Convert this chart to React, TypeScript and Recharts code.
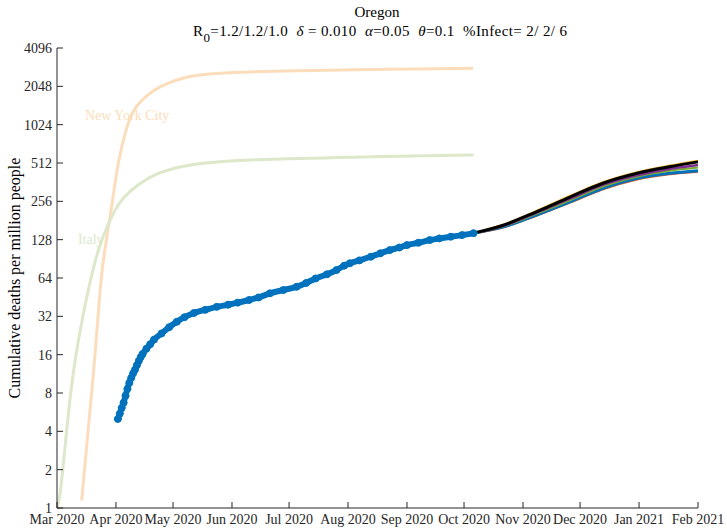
import React from 'react';
import { LineChart, Line, XAxis, YAxis, ReferenceDot } from 'recharts';

// x values are days since 1 Mar 2020
const monthTicks = [0, 31, 61, 92, 122, 153, 184, 214, 245, 275, 306, 337];
const monthLabels = ['Mar 2020', 'Apr 2020', 'May 2020', 'Jun 2020', 'Jul 2020', 'Aug 2020', 'Sep 2020', 'Oct 2020', 'Nov 2020', 'Dec 2020', 'Jan 2021', 'Feb 2021'];
const yTicks = [1, 2, 4, 8, 16, 32, 64, 128, 256, 512, 1024, 2048, 4096];

const nycDays = [13, 14.7, 16.3, 18.9, 21.6, 23.5, 27, 29.3, 32.2, 36.6, 40.1, 44.5, 50.6, 57.7, 68.2, 75.2, 89.2, 124, 176.7, 218.7];
const nycValues = [1.15, 2.2, 4, 10, 32, 75, 160, 263, 541, 988, 1340, 1600, 1910, 2160, 2440, 2520, 2630, 2720, 2790, 2840];

const italyDays = [0, 1.6, 4.2, 7.7, 12.1, 17.4, 22.6, 26.3, 30, 34.7, 43.6, 52, 61, 75, 101, 154, 219];
const italyValues = [1.0, 1.2, 3, 10, 25, 62, 120, 160, 215, 277, 357, 420, 467, 512, 545, 570, 592];

const oregonDays = [32, 33, 34, 35, 36, 37, 38, 39, 40, 41, 42, 43, 44, 45, 47, 49, 51, 55, 59, 63, 67, 72, 78, 84, 90, 95, 101, 106, 112, 119, 126, 131, 136, 142, 147, 151, 154, 159, 165, 170, 175, 180, 184, 190, 196, 201, 207, 213, 219];
const oregonValues = [5.0, 5.5, 6.1, 6.7, 7.6, 8.6, 9.6, 10.5, 11.4, 12.2, 13.2, 14.3, 15.3, 16.2, 17.8, 19.3, 21, 23.5, 26.3, 29, 31.5, 34, 36, 38, 39.5, 41, 43, 45, 48.5, 51.5, 54.6, 58.5, 63.5, 68.5, 74, 80, 83.5, 88, 94, 100, 106, 111, 116, 121, 127, 131, 135, 139, 144];

const projDays = [219, 235, 252, 270, 287, 305, 322, 337];
const projRed = [144, 161, 198, 252, 320, 382, 420, 440];
const projBlue = [144, 162, 200, 255, 324, 388, 425, 446];
const projGreen = [144, 164, 204, 262, 335, 400, 445, 472];
const projPurple = [144, 165, 208, 270, 345, 410, 460, 494];
const projYellow = [144, 168, 214, 282, 360, 432, 487, 532];
const projBlack = [144, 167, 212, 278, 355, 425, 478, 523];

const toPoints = (days: number[], vals: number[]) => days.map((d, i) => ({ day: d, value: vals[i] }));

const nycData = toPoints(nycDays, nycValues);
const italyData = toPoints(italyDays, italyValues);
const oregonData = toPoints(oregonDays, oregonValues);
const redData = toPoints(projDays, projRed);
const blueData = toPoints(projDays, projBlue);
const greenData = toPoints(projDays, projGreen);
const purpleData = toPoints(projDays, projPurple);
const yellowData = toPoints(projDays, projYellow);
const blackData = toPoints(projDays, projBlack);

const FONT = '"Liberation Serif", "Times New Roman", serif';
const AXIS = '#262626';

const XTick = (props: any) => {
  const { x, y, payload } = props;
  const idx = monthTicks.indexOf(payload.value);
  return (
    <g>
      <line x1={x} y1={y} x2={x} y2={y - 6} stroke={AXIS} strokeWidth={1} />
      <text x={x} y={y + 16} textAnchor="middle" fontFamily={FONT} fontSize={14} fill={AXIS}>
        {idx >= 0 ? monthLabels[idx] : ''}
      </text>
    </g>
  );
};

const YTick = (props: any) => {
  const { x, y, payload } = props;
  return (
    <g>
      <line x1={x} y1={y} x2={x + 6} y2={y} stroke={AXIS} strokeWidth={1} />
      <text x={x - 5} y={y + 5} textAnchor="end" fontFamily={FONT} fontSize={14} fill={AXIS}>
        {payload.value}
      </text>
    </g>
  );
};

const makeLabel = (text: string, color: string) => (props: any) => (
  <text x={props.cx} y={props.cy} textAnchor="start" dominantBaseline="middle" fontFamily={FONT} fontSize={14} fill={color}>
    {text}
  </text>
);

export default function App() {
  return (
    <div style={{ position: 'absolute', left: 0, top: 0, width: 727, height: 528, background: '#fff' }}>
      <LineChart width={727} height={528} margin={{ top: 48, right: 29, bottom: 0, left: 17 }}>
        <XAxis
          dataKey="day"
          type="number"
          domain={[0, 337]}
          ticks={monthTicks}
          allowDataOverflow
          height={20}
          tickSize={0}
          tickMargin={0}
          tick={<XTick />}
          axisLine={{ stroke: AXIS, strokeWidth: 1 }}
          interval={0}
        />
        <YAxis
          type="number"
          scale="log"
          domain={[1, 4096]}
          ticks={yTicks}
          allowDataOverflow
          width={40}
          tickSize={0}
          tickMargin={0}
          tick={<YTick />}
          axisLine={{ stroke: AXIS, strokeWidth: 1 }}
          interval={0}
        />
        <Line data={nycData} dataKey="value" type="basis" stroke="#FCDDBB" strokeWidth={3} dot={false} isAnimationActive={false} />
        <Line data={italyData} dataKey="value" type="basis" stroke="#DDE8CB" strokeWidth={3} dot={false} isAnimationActive={false} />
        <Line
          data={oregonData}
          dataKey="value"
          type="monotone"
          stroke="#0072BD"
          strokeWidth={6}
          strokeLinecap="round"
          dot={{ r: 3.5, fill: '#0072BD', stroke: '#0072BD', strokeWidth: 1 }}
          isAnimationActive={false}
        />
        <Line data={redData} dataKey="value" type="monotone" stroke="#D95319" strokeWidth={2.5} dot={false} isAnimationActive={false} />
        <Line data={blueData} dataKey="value" type="monotone" stroke="#0072BD" strokeWidth={3} dot={false} isAnimationActive={false} />
        <Line data={greenData} dataKey="value" type="monotone" stroke="#77AC30" strokeWidth={2} dot={false} isAnimationActive={false} />
        <Line data={purpleData} dataKey="value" type="monotone" stroke="#7E2F8E" strokeWidth={2.5} dot={false} isAnimationActive={false} />
        <Line data={yellowData} dataKey="value" type="monotone" stroke="#EDB120" strokeWidth={2.5} dot={false} isAnimationActive={false} />
        <Line data={blackData} dataKey="value" type="monotone" stroke="#000000" strokeWidth={3} dot={false} isAnimationActive={false} />
        <ReferenceDot x={14.7} y={1177} r={0} ifOverflow="visible" shape={makeLabel('New York City', '#FCDDBB')} />
        <ReferenceDot x={11} y={125} r={0} ifOverflow="visible" shape={makeLabel('Italy', '#DDE8CB')} />
      </LineChart>
      <svg width={727} height={528} style={{ position: 'absolute', left: 0, top: 0, pointerEvents: 'none' }}>
        <text x={377} y={17} textAnchor="middle" fontFamily={FONT} fontSize={15} fill="#000">Oregon</text>
        <text x={193} y={36} textAnchor="start" fontFamily={FONT} fontSize={15} fill="#000" xmlSpace="preserve" textLength={374} lengthAdjust="spacing">
          <tspan>R</tspan>
          <tspan dy={6} fontSize={13}>0</tspan>
          <tspan dy={-6}>{'=1.2/1.2/1.0  '}</tspan>
          <tspan fontStyle="italic">δ</tspan>
          <tspan>{' = 0.010  '}</tspan>
          <tspan fontStyle="italic">α</tspan>
          <tspan>{'=0.05  '}</tspan>
          <tspan fontStyle="italic">θ</tspan>
          <tspan>{'=0.1  %Infect= 2/ 2/ 6'}</tspan>
        </text>
        <text
          x={0}
          y={0}
          transform="translate(20,278) rotate(-90)"
          textAnchor="middle"
          fontFamily={FONT}
          fontSize={16}
          fill="#000"
        >
          Cumulative deaths per million people
        </text>
      </svg>
    </div>
  );
}
